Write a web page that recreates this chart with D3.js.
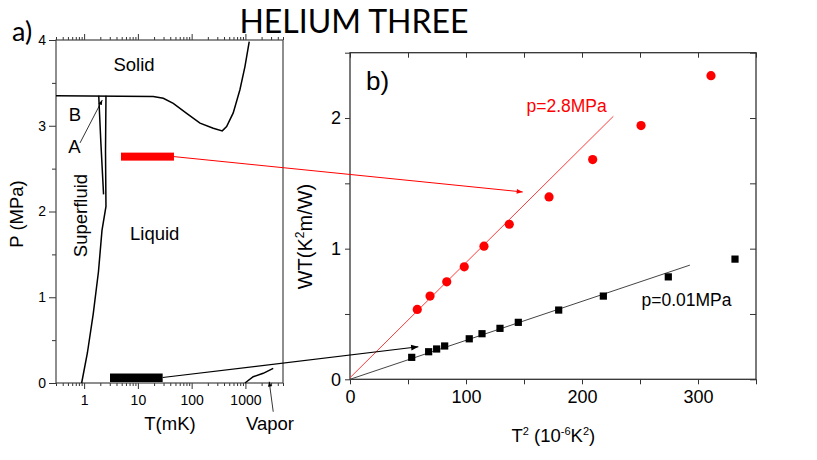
<!DOCTYPE html>
<html>
<head>
<meta charset="utf-8">
<script src="https://cdn.jsdelivr.net/npm/d3@7"></script>
<style>
  body { margin: 0; background: #fff; }
  text { font-family: "Liberation Sans", Arial, sans-serif; }
  .axis text { font-family: "Liberation Sans", Arial, sans-serif; fill: #000; }
  .axis line { stroke: #333; }
  .axis path { display: none; }
</style>
</head>
<body>
<svg id="chart" width="817" height="460"></svg>
<script>
// ---- panel a) phase diagram (T in mK, P in MPa)
let meltT = [0.3, 19.3, 29.7, 45.5, 80.7, 143, 252, 371, 447, 593, 790, 980, 1177],
    meltP = [3.35, 3.34, 3.32, 3.26, 3.145, 3.03, 2.97, 2.94, 2.99, 3.15, 3.42, 3.69, 3.98];
let abT = [1.87, 2.05, 2.3],
    abP = [3.35, 2.8, 2.2];
let tcT = [2.55, 2.50, 2.55, 2.15, 1.85, 1.48, 1.15, 0.90],
    tcP = [3.35, 2.7, 2.06, 1.78, 1.3, 0.81, 0.35, 0.0];
let vapT = [980, 1396, 2143, 3287],
    vapP = [0.0, 0.073, 0.113, 0.171];
let redBarT = [4.85, 46.9], redBarP = 2.64,
    blackBarT = [3.03, 28.9], blackBarP = 0.064;
let tTicksA = [1, 10, 100, 1000], pTicksA = [0, 1, 2, 3, 4];

// ---- panel b) WT vs T^2
let hiX = [58.0, 69.0, 83.4, 98.5, 115.5, 137.3, 171.6, 209.2, 250.9, 311.2],
    hiY = [0.535, 0.637, 0.746, 0.861, 1.019, 1.187, 1.396, 1.682, 1.942, 2.324];
let loX = [53.2, 67.8, 74.7, 81.6, 102.8, 113.8, 129.3, 145.1, 179.9, 218.4, 274.4, 331.9],
    loY = [0.168, 0.211, 0.232, 0.255, 0.310, 0.349, 0.390, 0.436, 0.530, 0.637, 0.784, 0.920];
let hiFitX = [0, 227], hiFitY = [0.012, 2.013],
    loFitX = [0, 293], loFitY = [0, 0.874];
let xTicksB = [0, 100, 200, 300], yTicksB = [0, 1, 2];
// where the arrows from the bars land in panel b
let redArrowEnd = [148.9, 1.434], blackArrowEnd = [58.9, 0.249];

const svg = d3.select("#chart");

// arrow heads
let defs = svg.append("defs");
[["arrBlack", "#000"], ["arrRed", "#f00"]].forEach(([id, c]) => {
    defs.append("marker").attr("id", id)
        .attr("viewBox", "0 0 10 10").attr("refX", 10).attr("refY", 5)
        .attr("markerWidth", 7).attr("markerHeight", 6)
        .attr("orient", "auto")
        .append("path").attr("d", "M0,1 L10,5 L0,9 z").attr("fill", c);
});

svg.append("text").attr("x", 354).attr("y", 33)
    .attr("text-anchor", "middle")
    .style("font-family", "Lato, 'Open Sans', sans-serif")
    .style("font-size", "32px")
    .text("HELIUM THREE");

// ================= panel a
const xa = d3.scaleLog().domain([0.3, 5000]).range([56, 283]),
      ya = d3.scaleLinear().domain([0, 4]).range([383, 40]);
let ga = svg.append("g");

let minorT = [];
for (let d = 0.1; d <= 1000; d *= 10)
    for (let k = 2; k <= 9; k++) if (d * k >= 0.3 && d * k <= 5000) minorT.push(d * k);

ga.append("g").attr("class", "axis").attr("transform", "translate(0,383)")
    .call(d3.axisBottom(xa).tickValues(minorT).tickSize(3).tickFormat(""));
ga.append("g").attr("class", "axis").attr("transform", "translate(0,383)")
    .call(d3.axisBottom(xa).tickValues(tTicksA).tickSize(6).tickPadding(6).tickFormat(d3.format("d")))
    .selectAll("text").style("font-size", "14px");
ga.append("g").attr("class", "axis").attr("transform", "translate(0,40)")
    .call(d3.axisTop(xa).tickValues(minorT).tickSize(3).tickFormat(""));
ga.append("g").attr("class", "axis").attr("transform", "translate(0,40)")
    .call(d3.axisTop(xa).tickValues(tTicksA).tickSize(6).tickFormat(""));
ga.append("g").attr("class", "axis").attr("transform", "translate(56,0)")
    .call(d3.axisLeft(ya).tickValues([0.5, 1.5, 2.5, 3.5]).tickSize(4).tickFormat(""));
ga.append("g").attr("class", "axis").attr("transform", "translate(56,0)")
    .call(d3.axisLeft(ya).tickValues(pTicksA).tickSize(7).tickPadding(3).tickFormat(d3.format("d")))
    .selectAll("text").style("font-size", "14px");

ga.append("rect").attr("x", 56).attr("y", 40).attr("width", 227).attr("height", 343)
    .attr("fill", "none").attr("stroke", "#444").attr("stroke-width", 1.2);

let lineA = d3.line().x(d => xa(d[0])).y(d => ya(d[1]));
[[meltT, meltP], [abT, abP], [tcT, tcP], [vapT, vapP]].forEach(([t, p]) => {
    ga.append("path").attr("d", lineA(t.map((v, i) => [v, p[i]])))
        .attr("fill", "none").attr("stroke", "#000").attr("stroke-width", 1.5);
});

// bars marking the measured ranges
ga.append("rect").attr("x", xa(redBarT[0])).attr("width", xa(redBarT[1]) - xa(redBarT[0]))
    .attr("y", ya(redBarP) - 4).attr("height", 8).attr("fill", "#f00");
ga.append("rect").attr("x", xa(blackBarT[0])).attr("width", xa(blackBarT[1]) - xa(blackBarT[0]))
    .attr("y", ya(blackBarP) - 4).attr("height", 8.5).attr("fill", "#000");

// small annotation arrows
ga.append("line").attr("x1", xa(0.84)).attr("y1", ya(2.80)).attr("x2", xa(2.18)).attr("y2", ya(3.30))
    .attr("stroke", "#000").attr("stroke-width", 0.8).attr("marker-end", "url(#arrBlack)");
ga.append("line").attr("x1", xa(3290)).attr("y1", ya(-0.335)).attr("x2", xa(2770)).attr("y2", ya(0.015))
    .attr("stroke", "#000").attr("stroke-width", 0.8).attr("marker-end", "url(#arrBlack)");

let labA = [
    {t: "Solid", x: 134, y: 71, a: "middle"},
    {t: "B", x: 75, y: 121, a: "middle"},
    {t: "A", x: 74.5, y: 153, a: "middle"},
    {t: "Liquid", x: 130, y: 240, a: "start"},
    {t: "T(mK)", x: 170, y: 430, a: "middle"},
    {t: "Vapor", x: 270, y: 430, a: "middle"}
];
labA.forEach(l => ga.append("text").attr("x", l.x).attr("y", l.y)
    .attr("text-anchor", l.a).style("font-size", "18.5px").text(l.t));
ga.append("text").attr("transform", "translate(87,215.5) rotate(-90)")
    .attr("text-anchor", "middle").style("font-size", "18.5px").text("Superfluid");
ga.append("text").attr("transform", "translate(23,214) rotate(-90)")
    .attr("text-anchor", "middle").style("font-size", "18.5px").text("P (MPa)");
ga.append("text").attr("x", 12).attr("y", 41)
    .style("font-family", "Lato, 'Open Sans', sans-serif").style("font-size", "27px").text("a)");

// ================= panel b
const xb = d3.scaleLinear().domain([0, 350]).range([350, 756]),
      yb = d3.scaleLinear().domain([0, 2.5]).range([379.3, 52.7]);
let gb = svg.append("g");
let xAll = d3.range(0, 351, 50), yAll = d3.range(0, 2.51, 0.5);

gb.append("g").attr("class", "axis").attr("transform", "translate(0,379.3)")
    .call(d3.axisBottom(xb).tickValues(xAll).tickSize(5).tickPadding(6)
        .tickFormat(d => xTicksB.includes(d) ? d : ""))
    .selectAll("text").style("font-size", "18px");
gb.append("g").attr("class", "axis").attr("transform", "translate(0,52.7)")
    .call(d3.axisTop(xb).tickValues(xAll).tickSize(-5).tickFormat(""));
gb.append("g").attr("class", "axis").attr("transform", "translate(350,0)")
    .call(d3.axisLeft(yb).tickValues(yAll).tickSize(5).tickPadding(4)
        .tickFormat(d => yTicksB.includes(d) ? d : ""))
    .selectAll("text").style("font-size", "18px");
gb.append("g").attr("class", "axis").attr("transform", "translate(756,0)")
    .call(d3.axisRight(yb).tickValues(yAll).tickSize(-6).tickFormat(""));

gb.append("rect").attr("x", 350).attr("y", 52.7).attr("width", 406).attr("height", 326.6)
    .attr("fill", "none").attr("stroke", "#333").attr("stroke-width", 1.3);

let lineB = d3.line().x(d => xb(d[0])).y(d => yb(d[1]));
gb.append("path").attr("d", lineB(hiFitX.map((v, i) => [v, hiFitY[i]])))
    .attr("stroke", "#ff3b3b").attr("stroke-width", 1).attr("fill", "none");
gb.append("path").attr("d", lineB(loFitX.map((v, i) => [v, loFitY[i]])))
    .attr("stroke", "#444").attr("stroke-width", 1).attr("fill", "none");

gb.selectAll(".hi").data(hiX).enter().append("circle")
    .attr("cx", d => xb(d)).attr("cy", (d, i) => yb(hiY[i])).attr("r", 4.6).attr("fill", "#f00");
gb.selectAll(".lo").data(loX).enter().append("rect")
    .attr("x", d => xb(d) - 3.6).attr("y", (d, i) => yb(loY[i]) - 3.6)
    .attr("width", 7.2).attr("height", 7.2).attr("fill", "#000");

gb.append("text").attr("x", 526.5).attr("y", 111.5).attr("fill", "#f00")
    .style("font-size", "17.5px").text("p=2.8MPa");
gb.append("text").attr("x", 641.5).attr("y", 306).attr("fill", "#000")
    .style("font-size", "17.5px").text("p=0.01MPa");
gb.append("text").attr("x", 366).attr("y", 90).style("font-size", "26px").text("b)");

let xl = gb.append("text").attr("x", 511.5).attr("y", 441.5).style("font-size", "18.5px");
xl.append("tspan").text("T");
xl.append("tspan").attr("dy", -7).style("font-size", "11px").text("2");
xl.append("tspan").attr("dy", 7).text(" (10");
xl.append("tspan").attr("dy", -7).style("font-size", "11px").text("-6");
xl.append("tspan").attr("dy", 7).text("K");
xl.append("tspan").attr("dy", -7).style("font-size", "11px").text("2");
xl.append("tspan").attr("dy", 7).text(")");

let yl = gb.append("text").attr("transform", "translate(312,236.5) rotate(-90)")
    .attr("text-anchor", "middle").style("font-size", "20px");
yl.append("tspan").text("WT(K");
yl.append("tspan").attr("dy", -8).style("font-size", "12px").text("2");
yl.append("tspan").attr("dy", 8).text("m/W)");

// ================= arrows joining the bars to the data
svg.append("line")
    .attr("x1", xa(redBarT[1])).attr("y1", ya(redBarP))
    .attr("x2", xb(redArrowEnd[0])).attr("y2", yb(redArrowEnd[1]))
    .attr("stroke", "#f00").attr("stroke-width", 1).attr("marker-end", "url(#arrRed)");
svg.append("line")
    .attr("x1", xa(blackBarT[1])).attr("y1", ya(blackBarP))
    .attr("x2", xb(blackArrowEnd[0])).attr("y2", yb(blackArrowEnd[1]))
    .attr("stroke", "#000").attr("stroke-width", 1.2).attr("marker-end", "url(#arrBlack)");
</script>
</body>
</html>
